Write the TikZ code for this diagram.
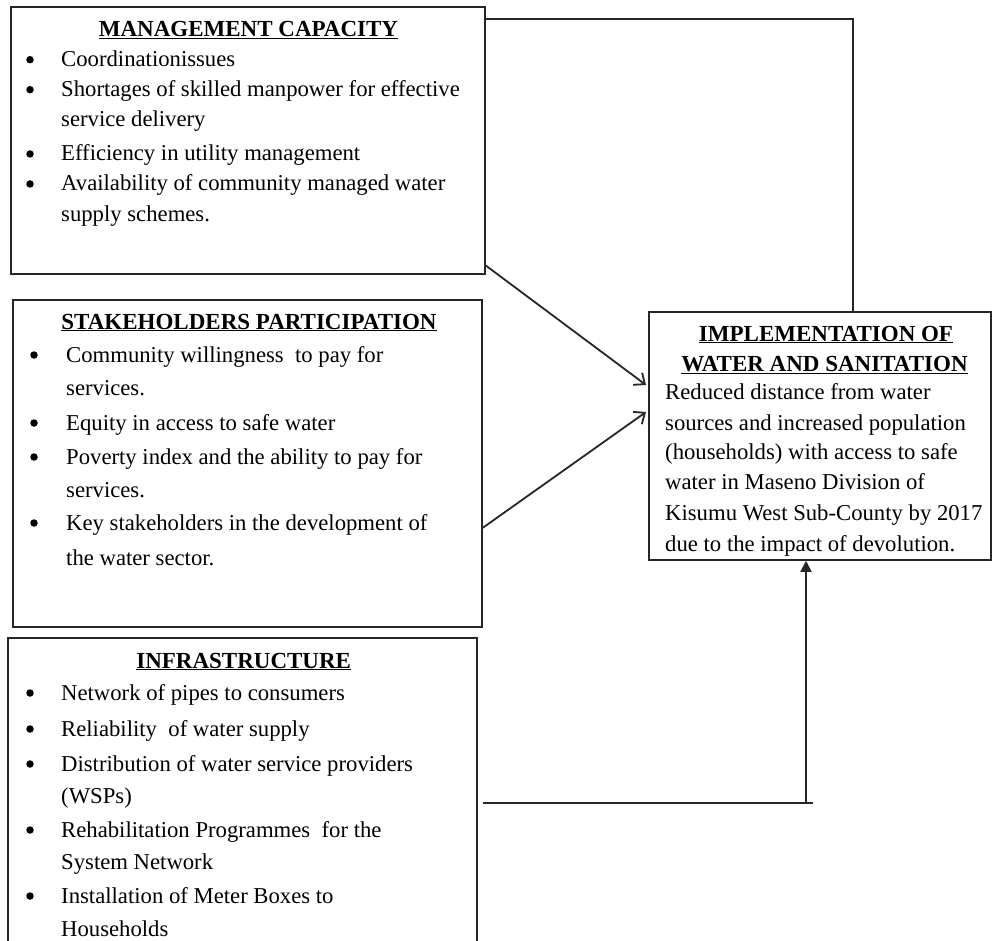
\documentclass[tikz,border=0pt]{standalone}
\usepackage{fontspec}
\setmainfont{Liberation Serif}
\usetikzlibrary{arrows.meta,calc}
\begin{document}
\begin{tikzpicture}[x=1pt,y=-1pt,
  boxst/.style={draw=black!85, line width=1.8pt, anchor=north west, inner sep=0pt, rectangle},
  tx/.style={anchor=base west, inner sep=0pt, font=\fontsize{22.7}{27}\selectfont},
  ttl/.style={anchor=base, inner sep=0pt, font=\fontsize{23}{27}\selectfont\bfseries},
  bul/.style={circle, fill=black, inner sep=0pt, minimum size=7.5pt, yshift=7pt},
  conn/.style={draw=black!85, line width=1.8pt},
  openarr/.style={conn, -{Straight Barb[length=9pt,width=15pt]}},
  fillarr/.style={conn, -{Triangle[length=11pt,width=11pt]}},
]
\clip (0,0) rectangle (992,941);
\fill[white] (0,0) rectangle (992,941);

% boxes
\node[boxst, minimum width=474pt, minimum height=267pt] (mgmt) at (10,6) {};
\node[boxst, minimum width=469pt, minimum height=327pt] (stake) at (12,299) {};
\node[boxst, minimum width=469pt, minimum height=330pt] (infra) at (7,637) {};
\node[boxst, minimum width=342pt, minimum height=248pt] (impl) at (648,311) {};

% management capacity
\node[ttl] (mt) at (248.5,37) {\underline{MANAGEMENT CAPACITY}};
\node[bul] (mb1) at (30,66.7) {};
\node[tx] (m1) at (61,66.7) {Coordinationissues};
\node[bul] (mb2) at (30,96.7) {};
\node[tx] (m2) at (61,96.7) {Shortages of skilled manpower for effective};
\node[tx] (m3) at (61,126.7) {service delivery};
\node[bul] (mb3) at (30,161) {};
\node[tx] (m4) at (61,161) {Efficiency in utility management};
\node[bul] (mb4) at (30,191) {};
\node[tx] (m5) at (61,191) {Availability of community managed water};
\node[tx] (m6) at (61,222) {supply schemes.};

% stakeholders participation
\node[ttl] (st) at (249,329) {\underline{STAKEHOLDERS PARTICIPATION}};
\node[bul] (sb1) at (34,362) {};
\node[tx] (s1) at (66,362) {Community willingness\ \ to pay for};
\node[tx] (s2) at (66,395) {services.};
\node[bul] (sb2) at (34,430) {};
\node[tx] (s3) at (66,430) {Equity in access to safe water};
\node[bul] (sb3) at (34,464) {};
\node[tx] (s4) at (66,464) {Poverty index and the ability to pay for};
\node[tx] (s5) at (66,497) {services.};
\node[bul] (sb4) at (34,530) {};
\node[tx] (s6) at (66,530) {Key stakeholders in the development of};
\node[tx] (s7) at (66,565) {the water sector.};

% infrastructure
\node[ttl] (it) at (243.7,668) {\underline{INFRASTRUCTURE}};
\node[bul] (ib1) at (30,700) {};
\node[tx] (i1) at (61,700) {Network of pipes to consumers};
\node[bul] (ib2) at (30,736) {};
\node[tx] (i2) at (61,736) {Reliability\ \ of water supply};
\node[bul] (ib3) at (30,771) {};
\node[tx] (i3) at (61,771) {Distribution of water service providers};
\node[tx] (i4) at (61,803) {(WSPs)};
\node[bul] (ib4) at (30,837) {};
\node[tx] (i5) at (61,837) {Rehabilitation Programmes\ \ for the};
\node[tx] (i6) at (61,869) {System Network};
\node[bul] (ib5) at (30,903) {};
\node[tx] (i7) at (61,903) {Installation of Meter Boxes to};
\node[tx] (i8) at (61,936) {Households};

% implementation
\node[ttl] (pt1) at (826,341) {\underline{IMPLEMENTATION OF}};
\node[ttl] (pt2) at (824.5,371) {\underline{WATER AND SANITATION}};
\node[tx] (p1) at (665,399) {Reduced distance from water};
\node[tx] (p2) at (665,430) {sources and increased population};
\node[tx] (p3) at (665,459) {(households) with access to safe};
\node[tx] (p4) at (665,489) {water in Maseno Division of};
\node[tx] (p5) at (665,520) {Kisumu West Sub-County by 2017};
\node[tx] (p6) at (665,551) {due to the impact of devolution.};

% connectors
\coordinate (topR) at (853,19);
\draw[conn] (mgmt.east |- topR) -- (topR) -- (topR |- impl.north);

\coordinate (mOut) at ($(mgmt.south east)+(-1,-10)$);
\coordinate (iIn1) at ($(impl.north west)+(-2,74)$);
\draw[openarr] (mOut) -- (iIn1);

\coordinate (sOut) at ($(stake.south east)+(0,-100)$);
\coordinate (iIn2) at ($(impl.north west)+(-2,101)$);
\draw[openarr] (sOut) -- (iIn2);

\coordinate (bStart) at ($(infra.east |- 0,803)+(5,0)$);
\coordinate (bCorner) at (806,803);
\coordinate (bEnd) at (813,803);
\draw[conn] (bStart) -- (bEnd);
\draw[fillarr] (bCorner) -- (bCorner |- impl.south);
\end{tikzpicture}
\end{document}
